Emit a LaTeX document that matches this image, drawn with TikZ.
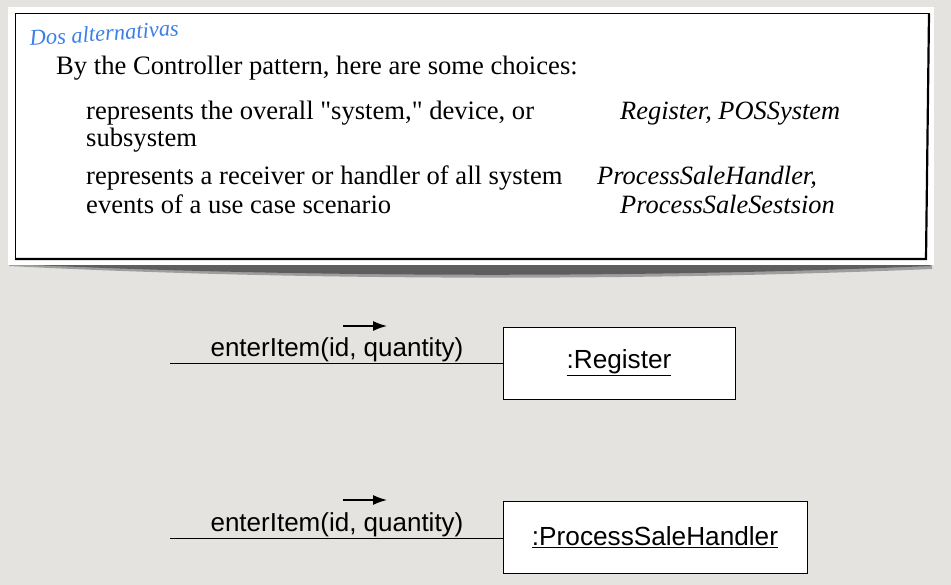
\documentclass[tikz,border=0pt]{standalone}
\usepackage{fontspec}
\setmainfont{Liberation Serif}[Ligatures=TeXOff]
\newfontfamily\umlfont{Liberation Sans}
\usetikzlibrary{arrows.meta,calc,positioning}
\definecolor{bggray}{HTML}{E4E3E0}
\definecolor{shadowgray}{HTML}{5E5E5E}
\definecolor{noteblue}{HTML}{3C7FE6}

\begin{document}
\begin{tikzpicture}[x=1pt,y=-1pt,
    classbox/.style={draw,fill=white,line width=0.8pt,inner sep=0pt},
    msgline/.style={line width=0.8pt},
    msgarrow/.style={line width=1.3pt,-{Latex[length=14pt,width=10pt]}},
    msglabel/.style={font=\umlfont\fontsize{26}{29}\selectfont,anchor=base},
    cardtext/.style={font=\fontsize{26.6}{30}\selectfont,anchor=base west,inner sep=0pt},
    cardname/.style={cardtext,font=\itshape\fontsize{26.4}{30}\selectfont}]
    \useasboundingbox[fill=bggray] (0,0) rectangle (951,585);

    \coordinate (S1) at (9,262);
    \coordinate (S2) at (932,262);
    \fill[shadowgray!60] (S1) -- (9,266) .. controls (300,281) and (650,281) .. (932,269) -- (S2) -- cycle;
    \fill[shadowgray] (S1) -- (12,264) .. controls (300,278) and (650,278) .. (930,266) -- (S2) -- cycle;
    \fill[white] (8,7) rectangle (934,265);
    \draw[line width=1pt] (15,14) -- (930,14);
    \draw[line width=1pt] (15,14) -- (15,259);
    \draw[line width=2.2pt] (929,14) -- (926,259) -- (15,259);

    \node[font=\itshape\fontsize{22.5}{25}\selectfont,text=noteblue,anchor=base west,inner sep=0pt,rotate=4]
        (title) at (30,46) {Dos alternativas};
    \node[cardtext] (intro) at (56,75) {By the Controller pattern, here are some choices:};
    \node[cardtext] (c1a) at (86,120) {represents the overall "system," device, or};
    \node[cardtext] (c1b) at (86,147) {subsystem};
    \node[cardtext] (c2a) at (86,185) {represents a receiver or handler of all system};
    \node[cardtext] (c2b) at (86,214) {events of a use case scenario};
    \node[cardname] (n1) at (620,120) {Register, POSSystem};
    \node[cardname] (n2a) at (597,185) {ProcessSaleHandler,};
    \node[cardname] (n2b) at (620,214) {ProcessSaleSestsion};

    \node[classbox,minimum width=232pt,minimum height=72pt] (reg) at (619,363)
        {\umlfont\fontsize{26.2}{29}\selectfont\underline{:Register}};
    \node[classbox,minimum width=304pt,minimum height=72pt] (psh) at (655,537)
        {\umlfont\fontsize{26.2}{29}\selectfont\underline{:ProcessSaleHandler}};

    \coordinate (in1) at (170,363);
    \coordinate (in2) at (170,538);
    \draw[msgline] (in1) -- (in1 -| reg.west);
    \draw[msgline] (in2) -- (in2 -| psh.west);

    \node[msglabel] (m1) at (337,357) {enterItem(id, quantity)};
    \node[msglabel] (m2) at (337,531) {enterItem(id, quantity)};
    \coordinate (a1) at (343,326);
    \coordinate (b1) at (387,326);
    \coordinate (a2) at (343,500);
    \coordinate (b2) at (387,500);
    \draw[msgarrow] (a1) -- (b1);
    \draw[msgarrow] (a2) -- (b2);

\end{tikzpicture}
\end{document}
